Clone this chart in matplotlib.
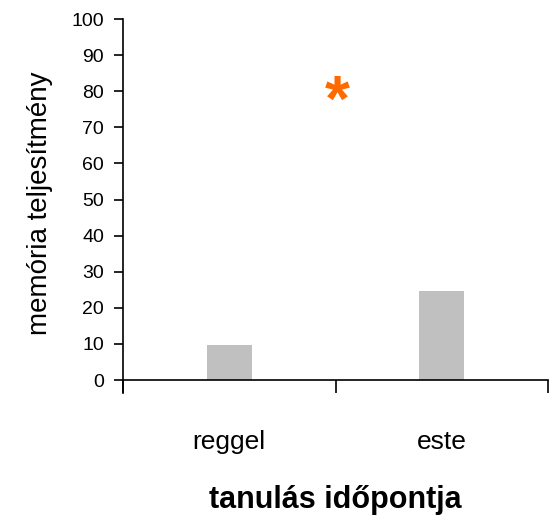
import matplotlib.pyplot as plt

# data
categories = ['reggel', 'este']
values = [9.7, 24.6]
star_value = 80

plt.rcParams['font.family'] = ['Liberation Sans', 'DejaVu Sans']

fig = plt.figure(figsize=(5.53, 5.18), dpi=100)
ax = fig.add_axes([0.2224, 0.2664, 0.7686, 0.6969])

pos = [i + 0.5 for i in range(len(categories))]
ax.bar(pos, values, width=0.21, color='#c0c0c0', edgecolor='none')

# significance marker between the two groups
ax.annotate('*', xy=(1.0, star_value), xytext=(1, -9), textcoords='offset points',
            color='#ff6a00', fontsize=46, fontweight='bold',
            ha='center', va='center')

ax.set_xlim(0, len(categories))
ax.set_ylim(0, 100)
ax.set_yticks(range(0, 101, 10))
ax.tick_params(axis='y', direction='out', length=6.5, width=1.2, pad=7, labelsize=14)

# boundary ticks below the axis, labels on the bar centres
ax.set_xticks(range(len(categories) + 1))
ax.set_xticklabels([])
ax.tick_params(axis='x', which='major', direction='out', length=9.5, width=1.2)
ax.set_xticks(pos, minor=True)
ax.set_xticklabels(categories, minor=True, fontsize=19)
ax.tick_params(axis='x', which='minor', length=0, pad=36)

for s in ['top', 'right']:
    ax.spines[s].set_visible(False)
ax.spines['left'].set_linewidth(1.2)
ax.spines['bottom'].set_linewidth(1.2)
ax.spines['left'].set_bounds(-3.6, 100)

ax.set_ylabel('memória teljesítmény', fontsize=20)
ax.yaxis.set_label_coords(-0.165, 0.49)
ax.set_xlabel('tanulás időpontja', fontsize=22, fontweight='bold')
ax.xaxis.set_label_coords(0.5, -0.29)

fig.savefig('out.png', dpi=100)
